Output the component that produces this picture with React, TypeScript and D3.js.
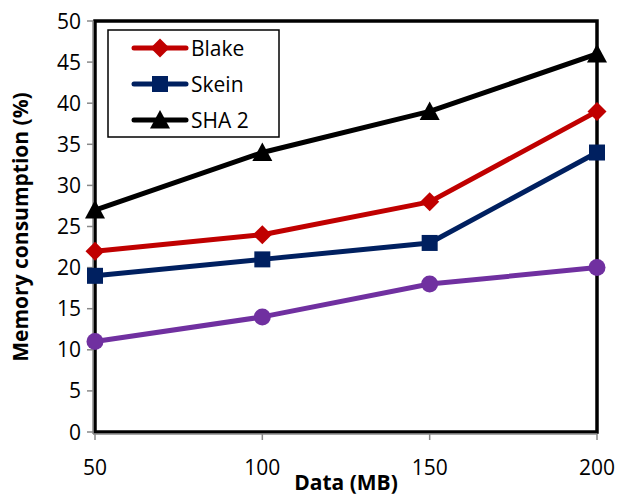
import React from "react";
import * as d3 from "d3";

const xValues = [50, 100, 150, 200];
const blake = [22, 24, 28, 39];
const skein = [19, 21, 23, 34];
const sha2 = [27, 34, 39, 46];
const purple = [11, 14, 18, 20];
const yTicks = [0, 5, 10, 15, 20, 25, 30, 35, 40, 45, 50];
const xTicks = [50, 100, 150, 200];

const FONT = "'Open Sans', 'Liberation Sans', sans-serif";

export default function App() {
  const W = 621, H = 497;
  const left = 95, right = 597, top = 21, bottom = 432;
  const x = d3.scaleLinear().domain([50, 200]).range([left, right]);
  const y = d3.scaleLinear().domain([0, 50]).range([bottom, top]);
  const line = d3.line<number>().x((_, i) => x(xValues[i])).y((d) => y(d));

  const series = [
    { name: "Blake", data: blake, color: "#C00000", marker: "diamond" },
    { name: "Skein", data: skein, color: "#002060", marker: "square" },
    { name: "SHA 2", data: sha2, color: "#000000", marker: "triangle" },
    { name: "", data: purple, color: "#7030A0", marker: "circle" },
  ];

  const marker = (type: string, cx: number, cy: number, color: string, key: any) => {
    if (type === "diamond") {
      const s = 9.5;
      return <path key={key} d={`M${cx},${cy - s}L${cx + s},${cy}L${cx},${cy + s}L${cx - s},${cy}Z`} fill={color} />;
    }
    if (type === "square") {
      const s = 8;
      return <rect key={key} x={cx - s} y={cy - s} width={2 * s} height={2 * s} fill={color} />;
    }
    if (type === "triangle") {
      const s = 10;
      return <path key={key} d={`M${cx},${cy - s}L${cx + s},${cy + s * 0.85}L${cx - s},${cy + s * 0.85}Z`} fill={color} />;
    }
    return <circle key={key} cx={cx} cy={cy} r={8.5} fill={color} />;
  };

  const legendItems = series.filter((s) => s.name);

  return (
    <svg width={W} height={H} style={{ position: "absolute", left: 0, top: 0 }}>
      <rect width={W} height={H} fill="#fff" />
      {/* plot border */}
      <rect x={left} y={top} width={right - left} height={bottom - top} fill="none" stroke="#000" strokeWidth={3.5} />
      {/* axis lines (gray) */}
      <line x1={left - 2} x2={left - 2} y1={top} y2={bottom + 2} stroke="#888" strokeWidth={1.5} />
      <line x1={left - 2} x2={right} y1={bottom + 2} y2={bottom + 2} stroke="#888" strokeWidth={1.5} />
      {yTicks.map((t) => (
        <g key={"y" + t}>
          <line x1={left - 8} x2={left - 2} y1={y(t)} y2={y(t)} stroke="#888" strokeWidth={1.5} />
          <text x={81} y={y(t)} dy="0.36em" textAnchor="end" fontFamily={FONT} fontSize={21} fill="#000">
            {t}
          </text>
        </g>
      ))}
      {xTicks.map((t) => (
        <g key={"x" + t}>
          <line x1={x(t)} x2={x(t)} y1={bottom + 2} y2={bottom + 8} stroke="#888" strokeWidth={1.5} />
          <text x={x(t)} y={475} textAnchor="middle" fontFamily={FONT} fontSize={21} fill="#000">
            {t}
          </text>
        </g>
      ))}
      {series.map((s, si) => (
        <g key={"s" + si}>
          <path d={line(s.data) || ""} fill="none" stroke={s.color} strokeWidth={5} strokeLinejoin="round" />
          {s.data.map((v, i) => marker(s.marker, x(xValues[i]), y(v), s.color, i))}
        </g>
      ))}
      {/* legend */}
      <rect x={108} y={30} width={171} height={107} fill="#fff" stroke="#000" strokeWidth={1.5} />
      {legendItems.map((s, i) => {
        const ly = 48 + i * 36;
        return (
          <g key={"l" + i}>
            <line x1={134} x2={186} y1={ly} y2={ly} stroke={s.color} strokeWidth={5} strokeLinecap="round" />
            {marker(s.marker, 160, ly, s.color, "m")}
            <text x={191} y={ly} dy="0.36em" fontFamily={FONT} fontSize={21} fill="#000">
              {s.name}
            </text>
          </g>
        );
      })}
      <text x={346} y={490} textAnchor="middle" fontFamily={FONT} fontSize={21} fontWeight="bold" fill="#000">
        Data (MB)
      </text>
      <text
        transform={`translate(28,227) rotate(-90)`}
        textAnchor="middle"
        fontFamily={FONT}
        fontSize={21}
        fontWeight="bold"
        fill="#000"
      >
        Memory consumption (%)
      </text>
    </svg>
  );
}
